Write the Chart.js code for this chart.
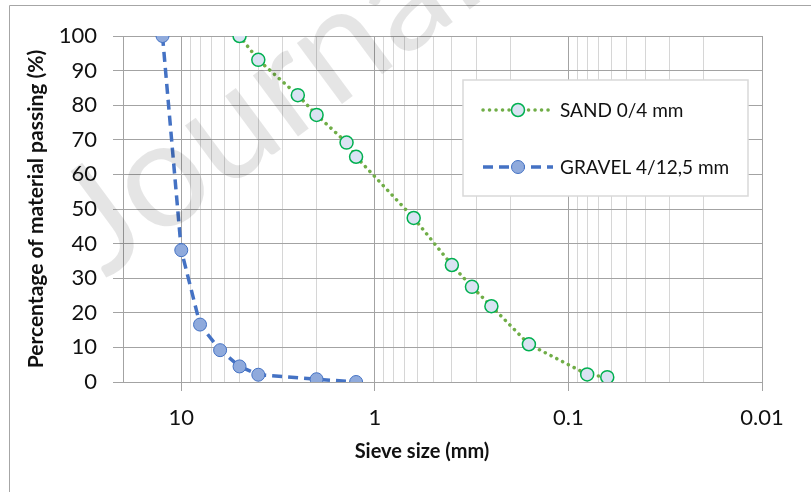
<!DOCTYPE html>
<html>
<head>
<meta charset="utf-8">
<script src="https://cdn.jsdelivr.net/npm/chart.js@4.4.0/dist/chart.umd.min.js"></script>
<style>
  body { margin: 0; background: #fff; }
  #wrap { position: relative; width: 811px; height: 492px; }
</style>
</head>
<body>
<div id="wrap"><canvas id="gradingChart" width="811" height="492"></canvas></div>
<script>
// Sieve sizes (mm) and percentage passing
const sandSizes = [5, 4, 2.5, 2, 1.4, 1.25, 0.63, 0.4, 0.315, 0.25, 0.16, 0.08, 0.063];
const sandPassing = [100, 93.1, 82.9, 77.2, 69.2, 65.1, 47.4, 33.8, 27.5, 21.9, 10.9, 2.2, 1.4];
const gravelSizes = [12.5, 10, 8, 6.3, 5, 4, 2, 1.25];
const gravelPassing = [100, 38.1, 16.6, 9.2, 4.5, 2.1, 0.8, 0];
const seriesNames = ["SAND 0/4 mm", "GRAVEL 4/12,5 mm"];
const xDecades = [10, 1, 0.1, 0.01];

const majorGrid = "#a3a3a3";
const minorGrid = "#d6d6d6";
const textFont = "Lato";

let canvas = document.getElementById("gradingChart");
let ctx = canvas.getContext("2d");

function isDecade(v) {
    return xDecades.some((d) => Math.abs(d - v) < d * 1e-6);
};

function toPoints(sizes, values) {
    return sizes.map((s, i) => ({ x: s, y: values[i] }));
};

// legend box inside the plot, like the Excel one
const boxLegend = {
    id: "boxLegend",
    afterDatasetsDraw(chart) {
        const c = chart.ctx;
        const area = chart.chartArea;
        const bx = area.left + 340, by = area.top + 44, bw = 285, bh = 116;
        c.save();
        c.fillStyle = "#fff";
        c.strokeStyle = "#d9d9d9";
        c.lineWidth = 1.5;
        c.fillRect(bx, by, bw, bh);
        c.strokeRect(bx, by, bw, bh);
        chart.data.datasets.forEach((ds, i) => {
            const y = by + 30 + i * 57;
            const x0 = bx + 20, x1 = bx + 90, xm = bx + 55;
            c.strokeStyle = ds.borderColor;
            c.lineWidth = ds.borderWidth;
            c.lineCap = ds.borderCapStyle;
            c.setLineDash(ds.borderDash);
            c.beginPath();
            c.moveTo(x0, y);
            c.lineTo(x1, y);
            c.stroke();
            c.setLineDash([]);
            c.beginPath();
            c.arc(xm, y, ds.pointRadius, 0, Math.PI * 2);
            c.fillStyle = ds.pointBackgroundColor;
            c.fill();
            c.lineWidth = ds.pointBorderWidth;
            c.strokeStyle = ds.pointBorderColor;
            c.stroke();
            c.fillStyle = "#111";
            c.font = "19px " + textFont;
            c.textBaseline = "middle";
            c.fillText(ds.label, bx + 97, y + 1);
        });
        c.restore();
    },
    afterDraw(chart) {
        const c = chart.ctx;
        const area = chart.chartArea;
        c.save();
        // x axis title (sits a bit left of the plot centre in the original)
        c.fillStyle = "#111";
        c.font = "bold 20px " + textFont;
        c.textAlign = "center";
        c.textBaseline = "middle";
        c.fillText("Sieve size (mm)", 422, area.bottom + 70);
        // outer chart frame (cropped at right and bottom)
        c.strokeStyle = "#a6a6a6";
        c.lineWidth = 1;
        c.beginPath();
        c.moveTo(9.5, chart.height);
        c.lineTo(9.5, 5.5);
        c.lineTo(chart.width, 5.5);
        c.stroke();
        // faint watermark, anchored on its "o"
        const ang = -36.5 * Math.PI / 180;
        const size = 150;
        c.font = size + "px " + textFont;
        const a = c.measureText("J").width + c.measureText("o").width / 2;
        const b = size * 0.25;
        const ux = Math.cos(ang), uy = Math.sin(ang);
        const vx = Math.sin(ang), vy = -Math.cos(ang);
        const ox = 168 - (a * ux + b * vx);
        const oy = 186 - (a * uy + b * vy);
        c.translate(ox, oy);
        c.rotate(ang);
        c.fillStyle = "rgba(0,0,0,0.1)";
        c.textAlign = "left";
        c.textBaseline = "alphabetic";
        c.fillText("Journal Pre-proof", 0, 0);
        c.restore();
    }
};

new Chart(ctx, {
    type: "line",
    data: {
        datasets: [{
            label: seriesNames[0],
            data: toPoints(sandSizes, sandPassing),
            borderColor: "#70ad47",
            borderWidth: 3.5,
            borderDash: [0.1, 6.4],
            borderCapStyle: "round",
            pointRadius: 6.5,
            pointBackgroundColor: "#dae3f3",
            pointBorderColor: "#00b050",
            pointBorderWidth: 1.5,
            tension: 0
        }, {
            label: seriesNames[1],
            data: toPoints(gravelSizes, gravelPassing),
            borderColor: "#4472c4",
            borderWidth: 3.5,
            borderDash: [10, 6],
            borderCapStyle: "butt",
            pointRadius: 6.5,
            pointBackgroundColor: "#8faadc",
            pointBorderColor: "#4472c4",
            pointBorderWidth: 1,
            tension: 0
        }]
    },
    options: {
        responsive: false,
        animation: false,
        events: [],
        layout: { padding: { left: 24, top: 36, right: 49, bottom: 50 } },
        plugins: {
            legend: { display: false },
            tooltip: { enabled: false }
        },
        scales: {
            x: {
                type: "logarithmic",
                reverse: true,
                min: 0.01,
                max: 20,
                afterBuildTicks: (scale) => {
                    // drop the 1.5 / 15 steps, keep 1..9 per decade
                    scale.ticks = scale.ticks.filter((t) => {
                        const m = t.value / Math.pow(10, Math.floor(Math.log10(t.value) + 1e-9));
                        return Math.abs(m - 1.5) > 1e-6;
                    });
                },
                afterFit: (scale) => { scale.height = 60; },
                grid: {
                    color: (c) => isDecade(c.tick.value) ? majorGrid : minorGrid,
                    tickColor: (c) => isDecade(c.tick.value) ? majorGrid : "rgba(0,0,0,0)",
                    tickLength: 9,
                    lineWidth: 1
                },
                border: { color: majorGrid },
                ticks: {
                    autoSkip: false,
                    maxRotation: 0,
                    padding: 14,
                    color: "#111",
                    font: { family: textFont, size: 22 },
                    callback: (value) => isDecade(value) ? String(value) : ""
                }
            },
            y: {
                min: 0,
                max: 100,
                afterFit: (scale) => { scale.width = 99; },
                grid: { color: majorGrid, tickLength: 10, lineWidth: 1 },
                border: { color: majorGrid },
                ticks: {
                    stepSize: 10,
                    padding: 16,
                    color: "#111",
                    font: { family: textFont, size: 22 }
                },
                title: {
                    display: true,
                    text: "Percentage of material passing (%)",
                    color: "#111",
                    padding: 0,
                    font: { family: textFont, size: 21, weight: "bold" }
                }
            }
        }
    },
    plugins: [boxLegend]
});
</script>
</body>
</html>
